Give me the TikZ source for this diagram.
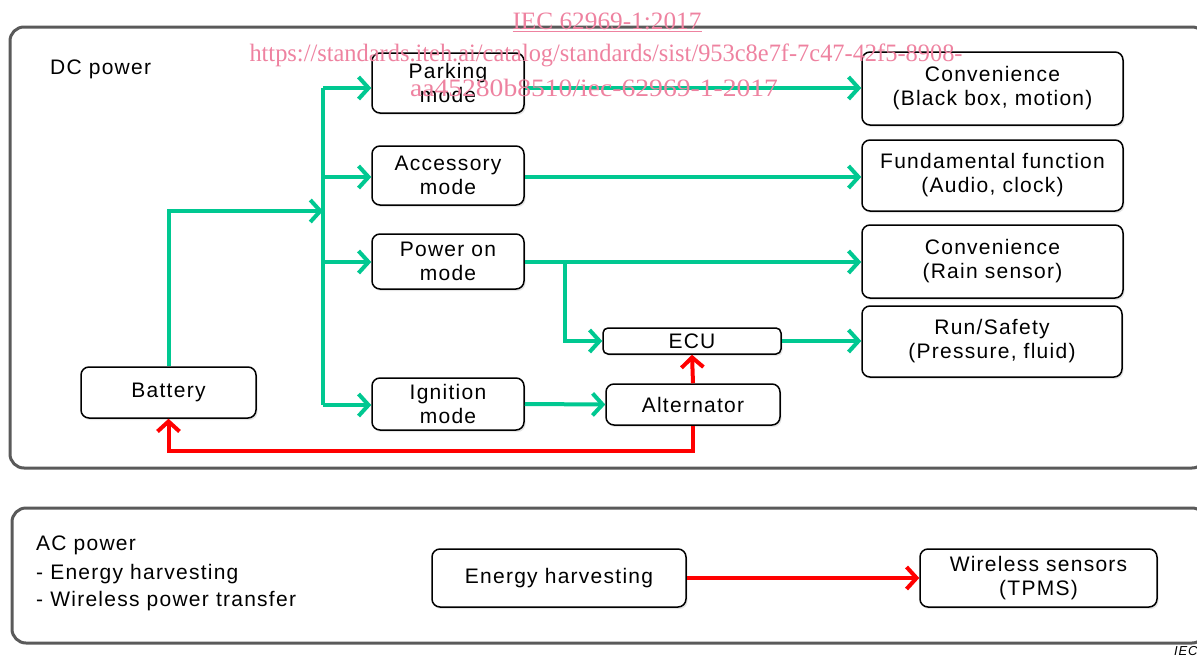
\documentclass[tikz,border=0pt]{standalone}
\usepackage{fontspec}
\setmainfont{Liberation Sans}[LetterSpace=6]
\newfontfamily\wmfont{Liberation Serif}
\usetikzlibrary{arrows.meta,shadows}
\definecolor{gline}{RGB}{0,200,145}
\definecolor{rline}{RGB}{255,0,0}
\definecolor{frame}{RGB}{90,90,90}
\definecolor{wmpink}{RGB}{238,130,160}
\tikzset{
  bx/.style={draw=black, line width=1.5pt, rounded corners=8pt, fill=white, align=center,
    inner sep=0pt, drop shadow={shadow xshift=1.5pt, shadow yshift=-2pt, opacity=0.2}},
  gflow/.style={draw=gline, line width=4pt, -{Straight Barb[length=10pt,width=22pt]}},
  rflow/.style={draw=rline, line width=4pt, -{Straight Barb[length=10pt,width=22pt]}},
  gline/.style={draw=gline, line width=4pt},
  outer/.style={draw=frame, line width=3pt, rounded corners=14pt},
  lbl/.style={anchor=west, inner sep=0pt},
  wm/.style={text=wmpink, inner sep=0pt, font=\wmfont\fontsize{25}{28}\selectfont}
}
\begin{document}
\begin{tikzpicture}[x=1pt,y=-1pt,font=\fontsize{21}{24}\selectfont]
\useasboundingbox (0,0) rectangle (1197,656);
% outer frames
\draw[outer] (10,27) rectangle (1206,468);
\draw[outer] (12,508) rectangle (1206,643);
% labels
\node[lbl] (dc) at (50,69) {DC power};
\node[lbl] (ac) at (36,545) {AC power};
\node[lbl] (ac1) at (36,574) {- Energy harvesting};
\node[lbl] (ac2) at (36,601) {- Wireless power transfer};
% boxes
\node[bx, minimum width=152pt, minimum height=60pt] (park) at (448,83) {Parking\\mode};
\node[bx, minimum width=152pt, minimum height=59pt] (acc) at (448,175.5) {Accessory\\mode};
\node[bx, minimum width=152pt, minimum height=55pt] (pwr) at (448,261.5) {Power on\\mode};
\node[bx, minimum width=152pt, minimum height=52pt] (ign) at (448,404) {Ignition\\mode};
\node[bx, minimum width=175pt, minimum height=51pt] (bat) at (168.5,392.5) {Battery};
\node[bx, minimum width=178pt, minimum height=26pt, rounded corners=5pt] (ecu) at (692,341) {ECU};
\node[bx, minimum width=174pt, minimum height=41pt] (alt) at (693,404.5) {Alternator};
\node[bx, minimum width=261pt, minimum height=73pt] (conv1) at (992.5,88.5) {Convenience\\(Black box, motion)};
\node[bx, minimum width=261pt, minimum height=71pt] (fund) at (992.5,175.5) {Fundamental function\\(Audio, clock)};
\node[bx, minimum width=261pt, minimum height=73pt] (rain) at (992.5,261.5) {Convenience\\(Rain sensor)};
\node[bx, minimum width=260pt, minimum height=71pt] (run) at (992,341.5) {Run/Safety\\(Pressure, fluid)};
\node[bx, minimum width=254pt, minimum height=58pt] (eh) at (559,578) {Energy harvesting};
\node[bx, minimum width=237pt, minimum height=58pt] (ws) at (1038.5,578) {Wireless sensors\\(TPMS)};
% bus coordinates
\coordinate (btop) at (323,88);
\coordinate (bin) at (323,211);
\coordinate (bacc) at (323,177);
\coordinate (bpwr) at (323,262);
\coordinate (bign) at (323,405);
\coordinate (br) at (565,262);
\coordinate (rlow) at (168.5,451);
% green connectors
\draw[gline] (btop) -- (bign);
\draw[gflow] (bat.north) |- (bin);
\draw[gflow] (btop) -- (btop -| park.west);
\draw[gflow] (bacc) -- (bacc -| acc.west);
\draw[gflow] (bpwr) -- (bpwr -| pwr.west);
\draw[gflow] (bign) -- (bign -| ign.west);
\draw[gflow] (btop -| park.east) -- (btop -| conv1.west);
\draw[gflow] (bacc -| acc.east) -- (bacc -| fund.west);
\draw[gflow] (bpwr -| pwr.east) -- (bpwr -| rain.west);
\draw[gflow] (br) |- (ecu.west);
\draw[gflow] (ecu.east) -- (ecu.east -| run.west);
\draw[gflow] (ign.east) -- (alt.west);
% red connectors
\draw[rflow] (alt.north) -- (ecu.south);
\draw[rflow] (alt.south) |- (rlow) -- (bat.south);
\draw[rflow] (eh.east) -- (ws.west);
% watermark
\node[wm] (wm1) at (607,22) {\underline{\resizebox{189pt}{\height}{IEC 62969-1:2017}}};
\node[wm] (wm2) at (606,55) {\resizebox{713pt}{\height}{https://standards.iteh.ai/catalog/standards/sist/953c8e7f-7c47-42f5-8908-}};
\node[wm] (wm3) at (594,88) {\resizebox{368pt}{\height}{aa45280b8510/iec-62969-1-2017}};
% IEC tag
\node[anchor=west, inner sep=0pt, font=\fontsize{13}{15}\selectfont\itshape] (iec) at (1174,651) {IEC};
\end{tikzpicture}
\end{document}
